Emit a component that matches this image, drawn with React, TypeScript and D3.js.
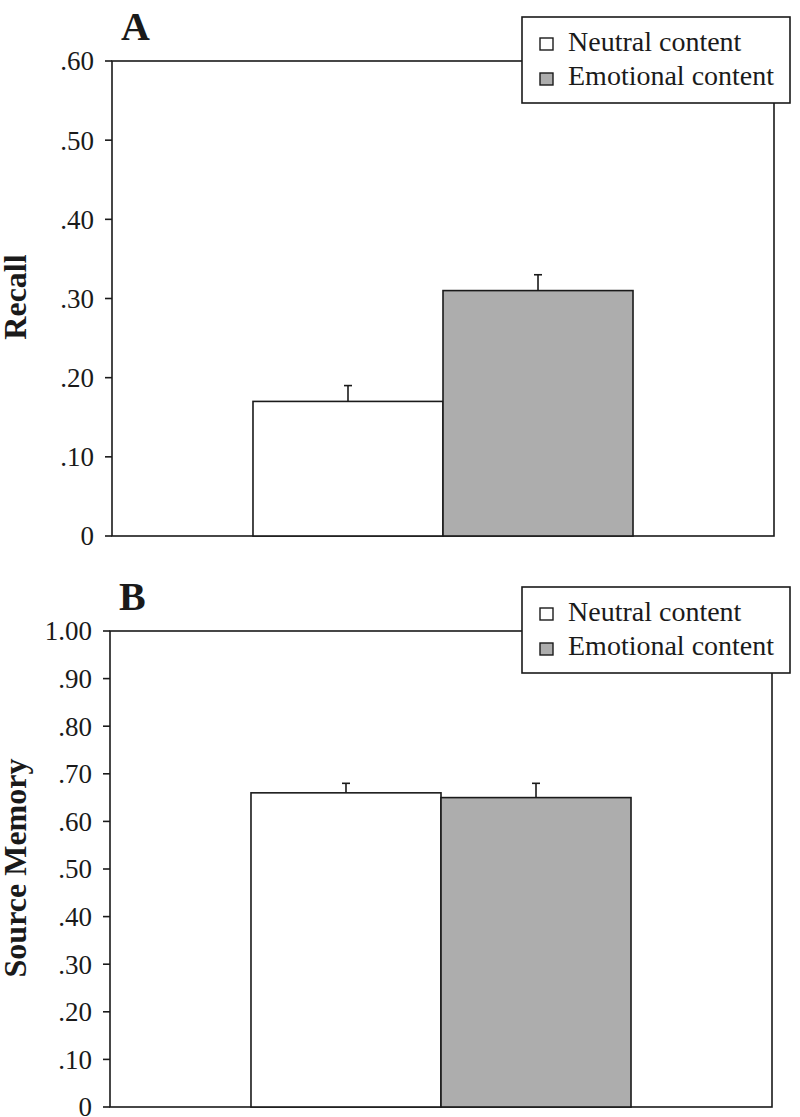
import React from "react";
import * as d3 from "d3";

const seriesNames = ["Neutral content", "Emotional content"];
const seriesFills = ["#ffffff", "#adadad"];

const recallValues = [0.17, 0.31];
const recallErrors = [0.02, 0.02];
const recallTicks = [0, 0.1, 0.2, 0.3, 0.4, 0.5, 0.6];

const sourceValues = [0.66, 0.65];
const sourceErrors = [0.02, 0.03];
const sourceTicks = [0, 0.1, 0.2, 0.3, 0.4, 0.5, 0.6, 0.7, 0.8, 0.9, 1.0];

const fmt = (v: number) => {
  if (v === 0) return "0";
  if (v >= 1) return v.toFixed(2);
  return v.toFixed(2).replace(/^0/, "");
};

const FONT = "'Liberation Serif', 'Times New Roman', serif";
const INK = "#1a1a1a";

type PanelProps = {
  letter: string;
  yLabel: string;
  values: number[];
  errors: number[];
  ticks: number[];
  yMax: number;
  left: number;
  right: number;
  top: number;
  bottom: number;
  legendTop: number;
  labelCenter: number;
};

function Panel(p: PanelProps) {
  const y = d3.scaleLinear().domain([0, p.yMax]).range([p.bottom, p.top]);
  const x = d3
    .scaleBand<string>()
    .domain(seriesNames)
    .range([p.left, p.right])
    .paddingInner(0)
    .paddingOuter(0.742);
  const bw = x.bandwidth();
  const lx = 522;
  const lw = 268;
  const lh = 86;
  return (
    <g>
      <text
        x={p.left + 9}
        y={p.top - 21}
        fontFamily={FONT}
        fontWeight="bold"
        fontSize={40}
        fill={INK}
      >
        {p.letter}
      </text>
      <rect
        x={p.left}
        y={p.top}
        width={p.right - p.left}
        height={p.bottom - p.top}
        fill="none"
        stroke={INK}
        strokeWidth={1.6}
      />
      {p.ticks.map((t) => (
        <g key={t}>
          <line
            x1={p.left - 7}
            x2={p.left}
            y1={y(t)}
            y2={y(t)}
            stroke={INK}
            strokeWidth={1.6}
          />
          <text
            x={p.left - 18}
            y={y(t)}
            dy="0.35em"
            textAnchor="end"
            fontFamily={FONT}
            fontSize={27}
            fill={INK}
          >
            {fmt(t)}
          </text>
        </g>
      ))}
      {seriesNames.map((s, i) => {
        const x0 = x(s) as number;
        const cx = x0 + bw / 2;
        return (
          <g key={s}>
            <rect
              x={x0}
              y={y(p.values[i])}
              width={bw}
              height={p.bottom - y(p.values[i])}
              fill={seriesFills[i]}
              stroke={INK}
              strokeWidth={1.6}
            />
            <line
              x1={cx}
              x2={cx}
              y1={y(p.values[i])}
              y2={y(p.values[i] + p.errors[i])}
              stroke={INK}
              strokeWidth={1.6}
            />
            <line
              x1={cx - 4}
              x2={cx + 4}
              y1={y(p.values[i] + p.errors[i])}
              y2={y(p.values[i] + p.errors[i])}
              stroke={INK}
              strokeWidth={1.6}
            />
          </g>
        );
      })}
      <text
        transform={`translate(26, ${p.labelCenter}) rotate(-90)`}
        textAnchor="middle"
        fontFamily={FONT}
        fontWeight="bold"
        fontSize={32}
        fill={INK}
      >
        {p.yLabel}
      </text>
      <rect
        x={lx}
        y={p.legendTop}
        width={lw}
        height={lh}
        fill="#ffffff"
        stroke={INK}
        strokeWidth={1.6}
      />
      {seriesNames.map((s, i) => (
        <g key={s}>
          <rect
            x={lx + 18}
            y={p.legendTop + 21 + i * 35}
            width={13}
            height={12}
            fill={seriesFills[i]}
            stroke={INK}
            strokeWidth={1.4}
          />
          <text
            x={lx + 46}
            y={p.legendTop + 34 + i * 34}
            fontFamily={FONT}
            fontSize={28}
            fill={INK}
          >
            {s}
          </text>
        </g>
      ))}
    </g>
  );
}

export default function App() {
  return (
    <svg
      width={800}
      height={1117}
      style={{ position: "absolute", left: 0, top: 0, background: "#ffffff" }}
    >
      <rect x={0} y={0} width={800} height={1117} fill="#ffffff" />
      <Panel
        letter="A"
        yLabel="Recall"
        values={recallValues}
        errors={recallErrors}
        ticks={recallTicks}
        yMax={0.6}
        left={112}
        right={774}
        top={61}
        bottom={536}
        legendTop={17}
        labelCenter={297}
      />
      <Panel
        letter="B"
        yLabel="Source Memory"
        values={sourceValues}
        errors={sourceErrors}
        ticks={sourceTicks}
        yMax={1.0}
        left={110}
        right={772}
        top={631}
        bottom={1107}
        legendTop={587}
        labelCenter={868}
      />
    </svg>
  );
}
